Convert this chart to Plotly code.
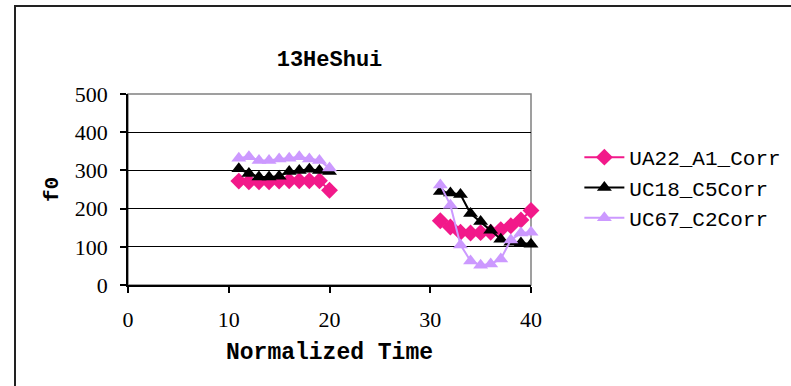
import plotly.graph_objects as go

# ---- data ----
time_a = [11, 12, 13, 14, 15, 16, 17, 18, 19, 20, None,
          31, 32, 33, 34, 35, 36, 37, 38, 39, 40]
ua22_a1 = [272, 270, 270, 270, 272, 273, 273, 273, 273, 248, None,
           168, 152, 138, 136, 137, 138, 145, 155, 170, 195]
uc18_c5 = [304, 292, 283, 283, 285, 297, 300, 303, 300, 297, None,
           245, 241, 237, 187, 166, 143, 120, 112, 110, 107]
uc67_c2 = [332, 336, 326, 326, 330, 332, 336, 330, 326, 306, None,
           262, 209, 105, 63, 52, 55, 68, 118, 136, 138]

series_names = ["UA22_A1_Corr", "UC18_C5Corr", "UC67_C2Corr"]
x_ticks = [0, 10, 20, 30, 40]
y_ticks = [0, 100, 200, 300, 400, 500]

PINK = "#F2198A"
BLACK = "#000000"
LAV = "#CC99FF"

MONO = "Liberation Mono"
SERIF = "Liberation Serif"

fig = go.Figure()
fig.add_trace(go.Scatter(
    x=time_a, y=ua22_a1, name=series_names[0], mode="lines+markers",
    line=dict(color=PINK, width=2),
    marker=dict(symbol="diamond", size=13, color=PINK),
    cliponaxis=False, connectgaps=False))
fig.add_trace(go.Scatter(
    x=time_a, y=uc18_c5, name=series_names[1], mode="lines+markers",
    line=dict(color=BLACK, width=2),
    marker=dict(symbol="triangle-up", size=13, color=BLACK),
    cliponaxis=False, connectgaps=False))
fig.add_trace(go.Scatter(
    x=time_a, y=uc67_c2, name=series_names[2], mode="lines+markers",
    line=dict(color=LAV, width=2),
    marker=dict(symbol="triangle-up", size=13, color=LAV),
    cliponaxis=False, connectgaps=False))

fig.update_layout(
    width=791, height=386,
    margin=dict(l=128, r=260, t=94, b=101, autoexpand=False),
    paper_bgcolor="white", plot_bgcolor="white",
    title=dict(text="<b>13HeShui</b>", x=0.5, xref="paper", xanchor="center",
               y=1 - 58 / 386, yanchor="middle",
               font=dict(family=MONO, size=22, color="black")),
    legend=dict(x=1.12, y=0.775, xanchor="left", yanchor="top",
                font=dict(family=MONO, size=21, color="black"),
                bgcolor="rgba(0,0,0,0)", tracegroupgap=0, itemwidth=40),
    shapes=[
        dict(type="rect", xref="paper", yref="paper", x0=0, x1=1, y0=0, y1=1,
             line=dict(color="#808080", width=1.5), layer="below"),
        dict(type="rect", xref="paper", yref="paper",
             x0=(15 - 128) / 403, x1=1.7, y0=-0.7, y1=(285 - 6) / 191,
             line=dict(color="#222222", width=2)),
    ],
)

fig.update_xaxes(
    range=[0, 40], tickvals=x_ticks, ticktext=[str(v) for v in x_ticks],
    showgrid=False, zeroline=False, showline=True, linecolor="black", linewidth=1.5,
    ticks="outside", ticklen=6, tickcolor="black", tickwidth=1.5,
    tickfont=dict(family=SERIF, size=22, color="black"),
    ticklabelstandoff=8,
    title=dict(text="<b>Normalized Time</b>", standoff=12,
               font=dict(family=MONO, size=23, color="black")),
)
fig.update_yaxes(
    range=[0, 500], tickvals=y_ticks, ticktext=[str(v) for v in y_ticks],
    showgrid=True, gridcolor="black", gridwidth=1,
    zeroline=False, showline=True, linecolor="black", linewidth=1.5,
    ticks="outside", ticklen=6, tickcolor="black", tickwidth=1.5,
    tickfont=dict(family=SERIF, size=22, color="black"),
    ticklabelstandoff=8,
    title=dict(text="<b>f0</b>", standoff=10,
               font=dict(family=MONO, size=21, color="black")),
)

fig.write_html("out.html")
